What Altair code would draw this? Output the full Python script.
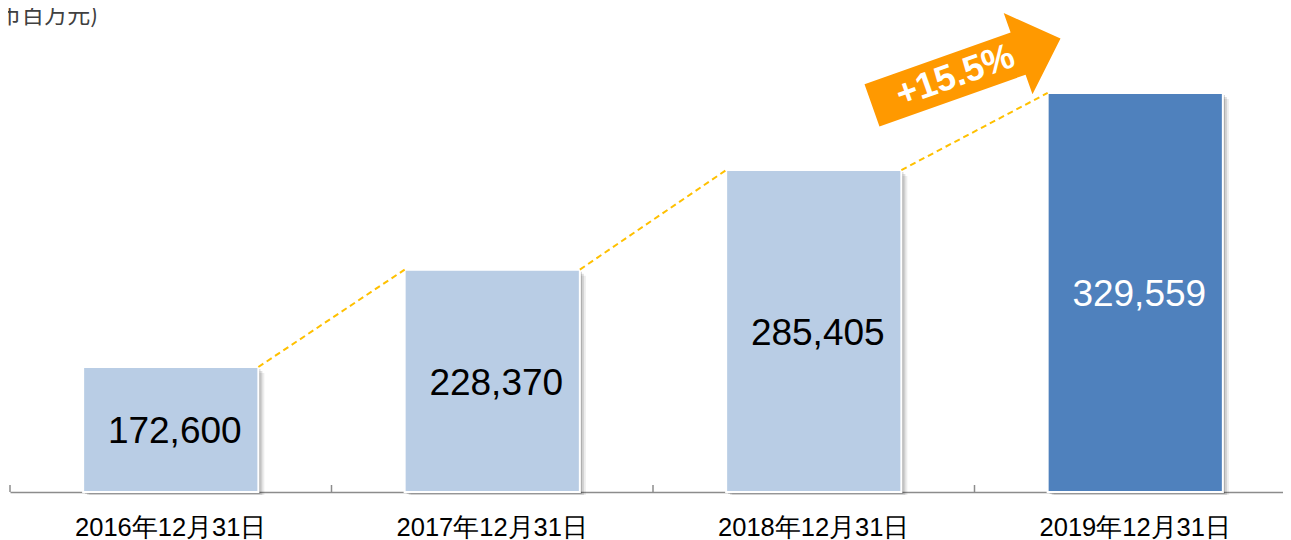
import altair as alt
import pandas as pd

# ---- data ----
dates = ["2016年12月31日", "2017年12月31日", "2018年12月31日", "2019年12月31日"]
values = [172600, 228370, 285405, 329559]
value_labels = ["172,600", "228,370", "285,405", "329,559"]
bar_colors = ["#B9CDE5", "#B9CDE5", "#B9CDE5", "#4F81BD"]
text_colors = ["#000000", "#000000", "#000000", "#FFFFFF"]
growth_label = "+15.5%"
unit_title = "(人民币百万元)"

Y_MIN = 101000
Y_MAX = 378235
W = 1273
H = 484
STEP = 321.5
RANGE_END = STEP * 4
BAR_W = STEP * 0.545
HALF = BAR_W / 2

df = pd.DataFrame({
    "date": dates,
    "value": values,
    "label": value_labels,
    "color": bar_colors,
    "tcolor": text_colors,
})
df["mid"] = (df["value"] + Y_MIN) / 2
df["base"] = Y_MIN

conn = pd.DataFrame({
    "date": dates[:-1],
    "x2": dates[1:],
    "value": values[:-1],
    "y2": values[1:],
})

arrow_df = pd.DataFrame({"date": [dates[3]], "value": [341600], "label": [growth_label]})
arrow_text_df = pd.DataFrame({"date": [dates[3]], "value": [339400], "label": [growth_label]})

xscale = alt.Scale(domain=dates, range=[0, RANGE_END], paddingInner=0.455, paddingOuter=0.2275)
yscale = alt.Scale(domain=[Y_MIN, Y_MAX], zero=False, nice=False)

X = alt.X("date:N", scale=xscale,
          axis=alt.Axis(title=None, ticks=False, labelAngle=0, labelFontSize=25.5,
                        labelColor="#000000", labelFont="Liberation Sans",
                        labelBaseline="middle", labelPadding=35, labelLimit=0,
                        domainColor="#8C8C8C", domainWidth=1.5))
Y = alt.Y("value:Q", scale=yscale, axis=None)

base = alt.Chart(df)

shadows = []
for off, op in [(2, 0.18), (4, 0.12), (6, 0.07)]:
    shadows.append(
        base.mark_bar(color="#000000", opacity=op, xOffset=off, yOffset=off, y2Offset=min(off, 3))
        .encode(x=X, y=Y, y2="base:Q")
    )

bars = base.mark_bar(stroke="white", strokeWidth=2).encode(
    x=X, y=Y, y2="base:Q",
    color=alt.Color("color:N", scale=None),
)

labels = base.mark_text(fontSize=37, font="Liberation Sans", baseline="middle",
                        align="center", xOffset=4, yOffset=3).encode(
    x=X, y=alt.Y("mid:Q", scale=yscale, axis=None),
    text="label:N",
    color=alt.Color("tcolor:N", scale=None),
)

connectors = alt.Chart(conn).mark_rule(
    color="#FFC000", strokeWidth=2, strokeDash=[6, 4], xOffset=HALF, x2Offset=-HALF
).encode(
    x=X,
    x2="x2:N",
    y=Y,
    y2="y2:Q",
)

ticks = base.mark_rule(color="#8C8C8C", strokeWidth=1.5, xOffset=-STEP / 2).encode(
    x=X, y=alt.value(H), y2=alt.value(H - 7)
)

arrow_path = "M-1,-0.224 L0.55,-0.224 L0.55,-0.431 L1,0 L0.55,0.431 L0.55,0.224 L-1,0.224 Z"
arrow = alt.Chart(arrow_df).mark_point(
    shape=arrow_path, filled=True, color="#FF9900", opacity=1, size=200 * 200,
    angle=340.5, xOffset=-169, strokeWidth=0
).encode(x=X, y=Y)

arrow_text = alt.Chart(arrow_text_df).mark_text(
    fontSize=36, fontWeight="bold", font="Liberation Sans", color="white",
    angle=340.5, align="center", baseline="middle", xOffset=-180
).encode(x=X, y=Y, text="label:N")

title = alt.Chart(pd.DataFrame({"t": [unit_title]})).mark_text(
    fontSize=23, align="right", baseline="top", color="#404040", font="Noto Sans CJK SC"
).encode(x=alt.value(88), y=alt.value(-3), text="t:N")

chart = alt.layer(
    *shadows, bars, ticks, connectors, labels, arrow, arrow_text, title
).properties(
    width=W, height=H,
    autosize=alt.AutoSizeParams(type="none"),
    padding={"left": 2, "top": 0, "right": 0, "bottom": 56},
).configure_view(stroke=None)

chart.save("out.html", embed_options={"renderer": "svg", "actions": False})
